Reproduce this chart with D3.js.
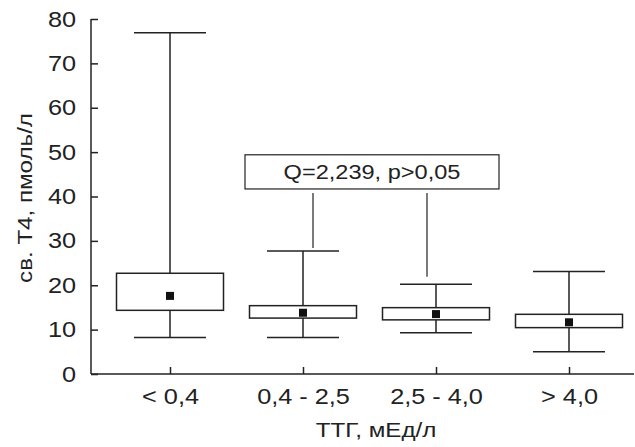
<!DOCTYPE html>
<html lang="ru">
  <head>
    <meta charset="UTF-8" />
    <title>св. T4 по группам ТТГ</title>
    <style>
      html, body { margin: 0; padding: 0; background: #fff; }
      svg { display: block; font-family: "Liberation Sans", Arial, sans-serif; }
    </style>
    <script src="https://cdn.jsdelivr.net/npm/d3@7/dist/d3.min.js"></script>
  </head>
  <body>
    <script>
      const categories = ["< 0,4", "0,4 - 2,5", "2,5 - 4,0", "> 4,0"];
      const whiskerLow = [8.2, 8.2, 9.3, 5.0];
      const boxLow = [14.35, 12.6, 12.2, 10.45];
      const means = [17.6, 13.8, 13.5, 11.65];
      const boxHigh = [22.7, 15.4, 14.95, 13.45];
      const whiskerHigh = [76.9, 27.7, 20.2, 23.1];
      const yTicks = [0, 10, 20, 30, 40, 50, 60, 70, 80];
      const note = "Q=2,239, p>0,05";

      const width = 635, height = 447;
      const ink = "#222";
      // the source typeface is a little wider than Liberation Sans
      const sx = 1.15;

      const svg = d3.select(document.body)
        .append("svg")
        .attr("width", width)
        .attr("height", height);

      const x = d3.scalePoint().domain(categories).range([170, 569]);
      const y = d3.scaleLinear().domain([0, 80]).range([374, 19]);

      const boxW = 107, capW = 72;

      // y axis, ticks point inward
      svg.append("g")
        .attr("transform", "translate(91,0)")
        .call(d3.axisLeft(y).tickValues(yTicks).tickSize(-7).tickSizeOuter(0).tickPadding(15))
        .call((g) => {
          g.select(".domain").remove();
          g.selectAll("line").attr("stroke", ink).attr("stroke-width", 1.5);
          g.selectAll("text")
            .attr("fill", ink)
            .attr("font-size", 22)
            .attr("x", -15 / sx)
            .attr("transform", `scale(${sx},1)`);
        });
      svg.append("line")
        .attr("x1", 91).attr("x2", 91)
        .attr("y1", y(80)).attr("y2", y(0))
        .attr("stroke", ink).attr("stroke-width", 1.5);

      // x axis
      svg.append("g")
        .attr("transform", `translate(0,${y(0)})`)
        .call(d3.axisBottom(x).tickSize(-7).tickSizeOuter(0).tickPadding(14))
        .call((g) => {
          g.select(".domain").remove();
          g.selectAll("line").attr("stroke", ink).attr("stroke-width", 1.5);
          g.selectAll("text")
            .attr("fill", ink)
            .attr("font-size", 22)
            .attr("transform", `scale(${sx},1)`);
        });
      svg.append("line")
        .attr("x1", 91).attr("x2", 634)
        .attr("y1", y(0)).attr("y2", y(0))
        .attr("stroke", ink).attr("stroke-width", 1.5);

      // axis titles
      svg.append("text")
        .attr("transform", `translate(32,198) rotate(-90) scale(${sx},1)`)
        .attr("text-anchor", "middle")
        .attr("fill", ink)
        .attr("font-size", 21)
        .text("св. T4, пмоль/л");
      svg.append("text")
        .attr("transform", `translate(376,437) scale(${sx},1)`)
        .attr("text-anchor", "middle")
        .attr("fill", ink)
        .attr("font-size", 21)
        .text("ТТГ, мЕд/л");

      // boxes
      const groups = svg.append("g")
        .attr("stroke", ink)
        .attr("stroke-width", 1.5)
        .selectAll("g")
        .data(categories)
        .join("g");

      groups.append("line")
        .attr("x1", (d) => x(d)).attr("x2", (d) => x(d))
        .attr("y1", (d, i) => y(whiskerHigh[i]))
        .attr("y2", (d, i) => y(whiskerLow[i]));
      groups.append("line")
        .attr("x1", (d) => x(d) - capW / 2).attr("x2", (d) => x(d) + capW / 2)
        .attr("y1", (d, i) => y(whiskerHigh[i])).attr("y2", (d, i) => y(whiskerHigh[i]));
      groups.append("line")
        .attr("x1", (d) => x(d) - capW / 2).attr("x2", (d) => x(d) + capW / 2)
        .attr("y1", (d, i) => y(whiskerLow[i])).attr("y2", (d, i) => y(whiskerLow[i]));
      groups.append("rect")
        .attr("x", (d) => x(d) - boxW / 2)
        .attr("width", boxW)
        .attr("y", (d, i) => y(boxHigh[i]))
        .attr("height", (d, i) => y(boxLow[i]) - y(boxHigh[i]))
        .attr("fill", "#fff");
      groups.append("rect")
        .attr("x", (d) => x(d) - 4)
        .attr("y", (d, i) => y(means[i]) - 4)
        .attr("width", 8).attr("height", 8)
        .attr("fill", "#111")
        .attr("stroke", "none");

      // annotation
      const ann = svg.append("g").attr("stroke", ink).attr("stroke-width", 1.2);
      ann.append("rect")
        .attr("x", 245).attr("y", y(49.4))
        .attr("width", 254).attr("height", y(41.7) - y(49.4))
        .attr("fill", "#fff");
      ann.append("line")
        .attr("x1", x(categories[1]) + 10).attr("x2", x(categories[1]) + 10)
        .attr("y1", y(40.8)).attr("y2", y(28.4));
      ann.append("line")
        .attr("x1", x(categories[2]) - 9).attr("x2", x(categories[2]) - 9)
        .attr("y1", y(40.8)).attr("y2", y(21.9));
      svg.append("text")
        .attr("transform", `translate(372,179) scale(${sx},1)`)
        .attr("text-anchor", "middle")
        .attr("fill", ink)
        .attr("font-size", 20.5)
        .text(note);
    </script>
  </body>
</html>
